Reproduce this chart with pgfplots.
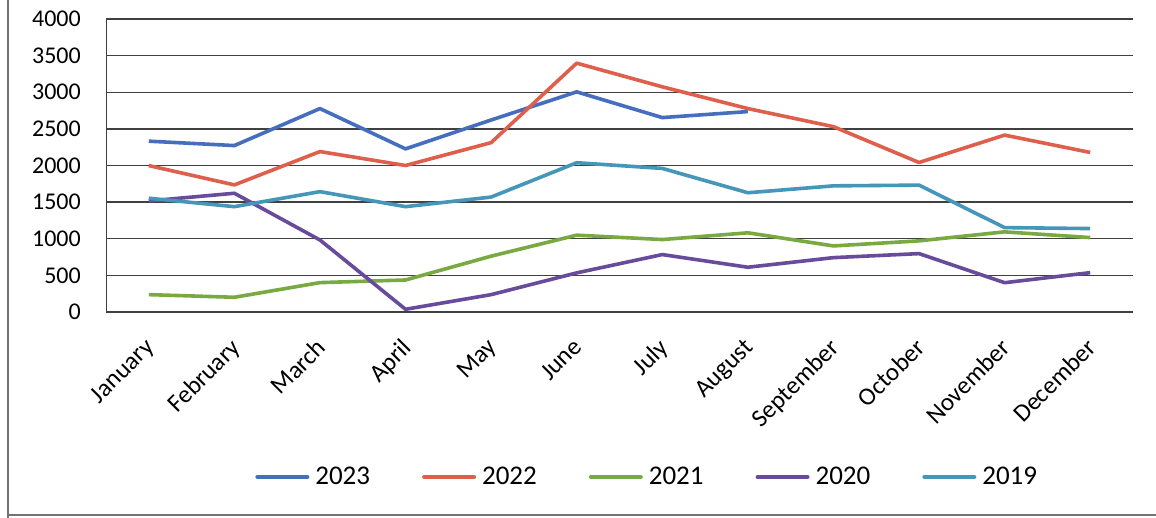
\documentclass[border=0pt]{standalone}
\usepackage{fontspec}
\setmainfont{Carlito}
\usepackage{pgfplots}
\pgfplotsset{compat=1.18}
\definecolor{c23}{RGB}{70,110,190}
\definecolor{c22}{RGB}{222,95,75}
\definecolor{c21}{RGB}{120,170,65}
\definecolor{c20}{RGB}{105,75,155}
\definecolor{c19}{RGB}{70,150,185}
\begin{document}
\begin{tikzpicture}[x=1pt,y=1pt]
\useasboundingbox (0,0) rectangle (1156,518);
\fill[white] (0,0) rectangle (1156,518);
\draw[black!55, line width=1.2pt] (8,-5) -- (8,530);
\draw[black!55, line width=1.2pt] (8,3) -- (1165,3);
\begin{axis}[
  at={(106pt,206pt)}, anchor=south west,
  scale only axis, width=1027pt, height=293pt,
  xmin=-0.5, xmax=11.5, ymin=0, ymax=4000,
  xtick={0,...,11},
  xticklabels={January,February,March,April,May,June,July,August,September,October,November,December},
  ytick={0,500,...,4000},
  ymajorgrids,
  grid style={line width=1.3pt, color=black!75},
  axis line style={draw=none},
  major tick length=0pt,
  /pgf/number format/assume math mode=true,
  /pgf/number format/1000 sep={},
  tick label style={font=\fontsize{24}{28}\selectfont, text=black},
  yticklabel style={anchor=east, inner sep=0pt, xshift=-25pt},
  xticklabel style={font=\fontsize{25}{28}\selectfont, inner sep=0pt, xshift=-5pt, yshift=-25pt, rotate=45, anchor=north east},
  legend columns=5,
  legend style={draw=none, fill=none, at={(axis description cs:0.527,-0.563)}, anchor=center,
    font=\fontsize{27}{30}\selectfont,
    /tikz/every even column/.append style={column sep=50pt},
    /tikz/every odd column/.append style={column sep=4pt}},
  legend image code/.code={\draw[#1, line width=4pt, line cap=round] (0pt,0pt) -- (50pt,0pt);},
  every axis plot/.append style={line width=3.6pt, line join=round, mark=none},
]
\draw[black!75, line width=1.3pt] (rel axis cs:0,0) -- (rel axis cs:0,1);
\addplot[c23] coordinates {(0,2332)(1,2272)(2,2777)(3,2227)(4,2621)(5,3005)(6,2654)(7,2736)};
\addlegendentry{2023}
\addplot[c22] coordinates {(0,1999)(1,1735)(2,2190)(3,2000)(4,2312)(5,3397)(6,3074)(7,2777)(8,2530)(9,2041)(10,2415)(11,2178)};
\addlegendentry{2022}
\addplot[c21] coordinates {(0,237)(1,201)(2,401)(3,437)(4,762)(5,1049)(6,989)(7,1081)(8,902)(9,971)(10,1094)(11,1016)};
\addlegendentry{2021}
\addplot[c20] coordinates {(0,1516)(1,1621)(2,983)(3,37)(4,237)(5,534)(6,784)(7,611)(8,742)(9,797)(10,400)(11,537)};
\addlegendentry{2020}
\addplot[c19] coordinates {(0,1553)(1,1438)(2,1643)(3,1438)(4,1569)(5,2038)(6,1960)(7,1628)(8,1722)(9,1732)(10,1152)(11,1139)};
\addlegendentry{2019}
\end{axis}
\end{tikzpicture}
\end{document}
